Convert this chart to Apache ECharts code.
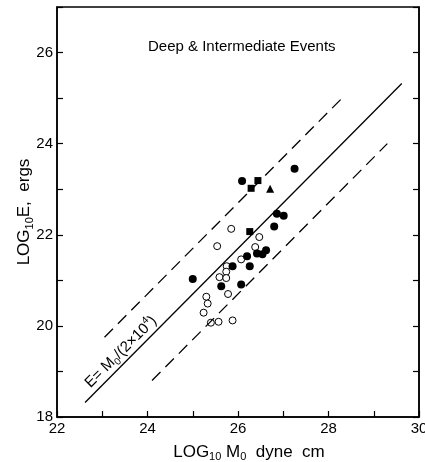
<!DOCTYPE html>
<html>
<head>
<meta charset="utf-8">
<script src="https://cdn.jsdelivr.net/npm/echarts@6/dist/echarts.min.js"></script>
<style>
html, body { margin: 0; padding: 0; background: #fff; }
#chart { width: 425px; height: 462px; }
</style>
</head>
<body>
<div id="chart"></div>
<script>
// values (log10 M0, log10 E)
var filledCircles = [[25.00, 21.03], [26.09, 23.18], [27.25, 23.45], [25.63, 20.87], [25.88, 21.31],
    [26.07, 20.91], [26.20, 21.53], [26.26, 21.31], [26.42, 21.59], [26.54, 21.57], [26.62, 21.66],
    [26.80, 22.18], [26.86, 22.46], [27.01, 22.42]];
var filledSquares = [[26.29, 23.02], [26.44, 23.19], [26.26, 22.07]];
var filledTriangles = [[26.71, 23.01]];
var openCircles = [[25.85, 22.13], [25.54, 21.75], [26.47, 21.95], [26.38, 21.73], [26.07, 21.46],
    [25.75, 21.31], [25.74, 21.19], [25.59, 21.07], [25.74, 21.05], [25.78, 20.70], [25.30, 20.64],
    [25.33, 20.49], [25.24, 20.29], [25.40, 20.07], [25.57, 20.09], [25.88, 20.12]];
var solidLine = [[22.62, 18.32], [29.62, 25.32]];
var upperDashed = [[23.05, 19.75], [28.35, 25.05]];
var lowerDashed = [[24.1, 18.8], [29.3, 24.0]];
var xTickLabels = [22, 24, 26, 28, 30];
var yTickLabels = [18, 20, 22, 24, 26];

var font = 'Liberation Sans';
var chart = echarts.init(document.getElementById('chart'));

var tickStyle = { show: true, inside: true, length: 6, lineStyle: { color: '#000', width: 1.2 } };
var subStyle = { fontFamily: font, fontSize: 11, lineHeight: 10, verticalAlign: 'bottom', color: '#000' };

var option = {
    backgroundColor: '#fff',
    animation: false,
    title: {
        text: 'Deep & Intermediate Events',
        left: 143,
        top: 34,
        textStyle: { fontFamily: font, fontSize: 15, fontWeight: 'normal', color: '#000' }
    },
    grid: {
        left: 57, right: 6, top: 7, bottom: 45, outerBoundsMode: 'none',
        show: true, borderColor: '#000', borderWidth: 1.5
    },
    xAxis: {
        type: 'value', min: 22, max: 30, interval: 1,
        name: 'LOG{sub|10} M{sub|0}  dyne  cm',
        nameLocation: 'middle', nameGap: 22,
        nameTextStyle: {
            fontFamily: font, fontSize: 17, color: '#000', lineHeight: 22,
            padding: [0, 0, 0, 22],
            rich: { sub: subStyle }
        },
        axisLine: { lineStyle: { color: '#000', width: 1.5 } },
        axisTick: tickStyle,
        splitLine: { show: false },
        axisLabel: {
            margin: 4, fontFamily: font, fontSize: 15, color: '#000',
            formatter: function (v) { return xTickLabels.indexOf(v) >= 0 ? String(v) : ''; }
        }
    },
    yAxis: [{
        type: 'value', min: 18, max: 27, interval: 1,
        name: 'LOG{sub|10}E,  ergs',
        nameLocation: 'middle', nameGap: 22, nameRotate: 90, nameMoveOverlap: false,
        nameTextStyle: {
            fontFamily: font, fontSize: 17, color: '#000', lineHeight: 22,
            rich: { sub: subStyle }
        },
        axisLine: { lineStyle: { color: '#000', width: 1.5 } },
        axisTick: tickStyle,
        splitLine: { show: false },
        axisLabel: {
            margin: 4, fontFamily: font, fontSize: 15, color: '#000',
            formatter: function (v) { return yTickLabels.indexOf(v) >= 0 ? String(v) : ''; }
        }
    }, {
        type: 'value', min: 18, max: 27, interval: 1, position: 'right',
        axisLine: { show: true, lineStyle: { color: '#000', width: 1.5 } },
        axisTick: tickStyle,
        splitLine: { show: false },
        axisLabel: { show: false }
    }],
    series: [{
        type: 'line', data: solidLine, symbol: 'none',
        lineStyle: { color: '#000', width: 1.3 }
    }, {
        type: 'line', data: upperDashed, symbol: 'none',
        lineStyle: { color: '#000', width: 1.3, type: [12, 7] }
    }, {
        type: 'line', data: lowerDashed, symbol: 'none',
        lineStyle: { color: '#000', width: 1.3, type: [12, 7] }
    }, {
        type: 'scatter', data: openCircles, symbol: 'circle', symbolSize: 7,
        itemStyle: { color: '#fff', borderColor: '#000', borderWidth: 1, opacity: 1 }
    }, {
        type: 'scatter', data: filledCircles, symbol: 'circle', symbolSize: 8,
        itemStyle: { color: '#000', opacity: 1 }
    }, {
        type: 'scatter', data: filledSquares, symbol: 'rect', symbolSize: 7,
        itemStyle: { color: '#000', opacity: 1 }
    }, {
        type: 'scatter', data: filledTriangles, symbol: 'triangle', symbolSize: 8,
        itemStyle: { color: '#000', opacity: 1 }
    }],
    graphic: [{
        type: 'text',
        x: 121, y: 352,
        rotation: Math.PI / 4,
        style: {
            text: 'E= M{sub|0}/(2×10{sup|4})',
            fontFamily: font, fontSize: 15, fill: '#000',
            align: 'center', verticalAlign: 'middle', lineHeight: 20,
            rich: {
                sub: { fontFamily: font, fontSize: 10, lineHeight: 10, verticalAlign: 'bottom' },
                sup: { fontFamily: font, fontSize: 10, lineHeight: 10, verticalAlign: 'top' }
            }
        }
    }]
};

chart.setOption(option);
</script>
</body>
</html>
